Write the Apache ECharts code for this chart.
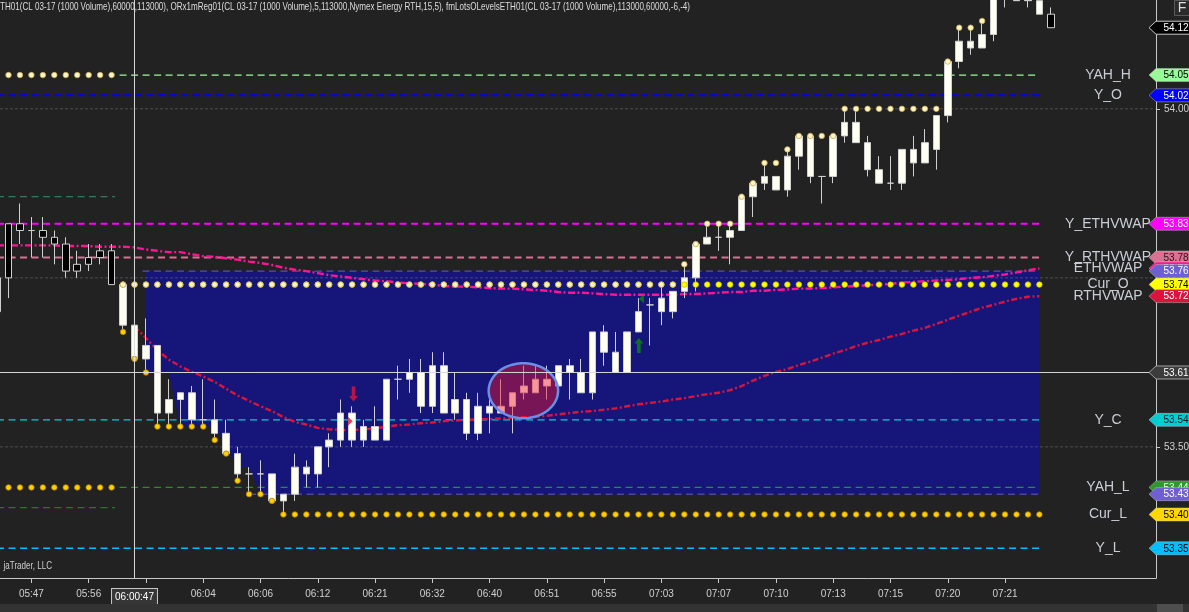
<!DOCTYPE html>
<html>
<head>
<meta charset="utf-8">
<script src="https://cdn.jsdelivr.net/npm/echarts@6.0.0/dist/echarts.min.js"></script>
<style>
html,body{margin:0;padding:0;background:#222222;overflow:hidden;}
#chart{width:1189px;height:612px;}
</style>
</head>
<body>
<div id="chart"></div>
<script>
// ================= DATA =================
// volume bars, index -1 .. 91
const firstBar = -1;
const opens = [
53.75,53.83,53.83,53.82,53.82,53.81,53.80,53.77,53.78,53.79,
53.79,53.68,53.63,53.63,53.55,53.55,53.57,53.54,53.54,53.52,
53.49,53.46,53.46,53.46,53.42,53.42,53.43,53.46,53.46,53.50,
53.51,53.51,53.51,53.51,53.51,53.60,53.60,53.56,53.56,53.55,
53.55,53.52,53.52,53.55,53.55,53.56,53.58,53.58,53.59,53.59,
53.61,53.58,53.58,53.64,53.61,53.61,53.67,53.71,53.70,53.70,
53.73,53.75,53.80,53.81,53.81,53.82,53.87,53.89,53.88,53.88,
53.93,53.90,53.90,53.90,53.96,53.95,53.91,53.89,53.89,53.89,
53.92,53.92,53.94,53.99,54.07,54.09,54.09,54.11,54.17,54.16,
54.16,54.14,54.14];
const closes = [
53.70,53.75,53.82,53.82,53.81,53.80,53.76,53.76,53.77,53.78,
53.74,53.74,53.68,53.65,53.65,53.57,53.58,53.58,53.54,53.54,
53.52,53.49,53.46,53.46,53.46,53.43,53.47,53.47,53.50,53.51,
53.55,53.55,53.53,53.53,53.60,53.60,53.61,53.61,53.62,53.62,
53.57,53.57,53.56,53.56,53.56,53.58,53.59,53.60,53.60,53.62,
53.62,53.61,53.67,53.67,53.64,53.67,53.70,53.71,53.72,53.73,
53.75,53.80,53.81,53.81,53.82,53.87,53.89,53.90,53.90,53.93,
53.96,53.96,53.90,53.96,53.98,53.98,53.95,53.91,53.89,53.94,
53.94,53.95,53.99,54.07,54.10,54.10,54.11,54.18,54.20,54.18,
54.17,54.16,54.12];
const lows = [
53.69,53.72,53.80,53.78,53.78,53.77,53.75,53.75,53.76,53.77,
53.74,53.67,53.63,53.61,53.53,53.53,53.53,53.53,53.53,53.51,
53.49,53.45,53.43,53.43,53.42,53.40,53.42,53.44,53.44,53.47,
53.50,53.50,53.50,53.51,53.51,53.57,53.58,53.55,53.55,53.55,
53.54,53.51,53.51,53.52,53.55,53.52,53.57,53.58,53.57,53.59,
53.57,53.58,53.57,53.62,53.61,53.61,53.67,53.65,53.68,53.69,
53.72,53.73,53.80,53.79,53.77,53.82,53.84,53.88,53.88,53.87,
53.91,53.89,53.86,53.89,53.95,53.95,53.90,53.89,53.88,53.88,
53.90,53.92,53.91,53.98,54.06,54.08,54.09,54.10,54.15,54.16,
54.15,54.14,54.12];
const highs = [
53.75,53.83,53.86,53.84,53.84,53.82,53.81,53.79,53.80,53.80,
53.80,53.74,53.71,53.69,53.65,53.60,53.58,53.59,53.60,53.57,
53.54,53.50,53.47,53.48,53.46,53.43,53.49,53.48,53.50,53.52,
53.57,53.56,53.54,53.56,53.60,53.62,53.63,53.63,53.64,53.64,
53.61,53.58,53.58,53.57,53.60,53.58,53.62,53.62,53.62,53.62,
53.63,53.63,53.67,53.68,53.67,53.67,53.72,53.72,53.74,53.73,
53.77,53.80,53.83,53.83,53.83,53.87,53.89,53.92,53.90,53.94,
53.96,53.96,53.90,53.96,54.00,54.00,53.96,53.93,53.93,53.94,
53.96,53.97,53.99,54.07,54.12,54.12,54.13,54.19,54.21,54.19,
54.18,54.16,54.15];

// ETH VWAP, bars -1 .. 90
const ethVwapStart = -1;
const ethVwap = [
53.798,53.798,53.798,53.798,53.798,53.798,53.797,53.797,53.797,53.796,
53.796,53.796,53.795,53.792,53.790,53.788,53.788,53.785,53.782,53.781,
53.779,53.777,53.774,53.772,53.769,53.765,53.762,53.760,53.757,53.754,
53.752,53.750,53.748,53.746,53.745,53.743,53.742,53.741,53.740,53.738,
53.737,53.737,53.736,53.735,53.734,53.734,53.733,53.732,53.731,53.729,
53.728,53.728,53.727,53.726,53.725,53.725,53.725,53.725,53.725,53.725,
53.726,53.726,53.727,53.728,53.729,53.729,53.731,53.731,53.732,53.733,
53.734,53.734,53.735,53.736,53.737,53.738,53.739,53.740,53.741,53.743,
53.744,53.745,53.746,53.747,53.748,53.750,53.751,53.753,53.755,53.758,
53.761,53.764];

// RTH VWAP, bars 11 .. 90
const rthVwapStart = 11;
const rthVwap = [
53.678,53.661,53.643,53.629,53.619,53.611,53.604,53.596,53.586,53.576,
53.568,53.560,53.553,53.544,53.537,53.533,53.528,53.526,53.525,53.525,
53.526,53.527,53.530,53.532,53.533,53.535,53.536,53.538,53.539,53.540,
53.541,53.541,53.542,53.543,53.544,53.544,53.546,53.548,53.550,53.552,
53.553,53.555,53.557,53.560,53.563,53.565,53.567,53.570,53.572,53.575,
53.578,53.580,53.584,53.590,53.598,53.605,53.611,53.615,53.621,53.626,
53.632,53.638,53.643,53.649,53.654,53.658,53.663,53.667,53.672,53.676,
53.682,53.688,53.694,53.700,53.706,53.710,53.715,53.719,53.722,53.723];

// current session (starts bar 10): open, running high / low per bar 10 .. 90
const sessionStart = 10;
const sessionEnd = 90;
const curOpen = 53.74;
const curHigh = [
53.74,53.74,53.74,53.74,53.74,53.74,53.74,53.74,53.74,53.74,
53.74,53.74,53.74,53.74,53.74,53.74,53.74,53.74,53.74,53.74,
53.74,53.74,53.74,53.74,53.74,53.74,53.74,53.74,53.74,53.74,
53.74,53.74,53.74,53.74,53.74,53.74,53.74,53.74,53.74,53.74,
53.74,53.74,53.74,53.74,53.74,53.74,53.74,53.74,53.74,
53.77,53.80,53.83,53.83,53.83,53.87,53.89,53.92,53.92,53.94,
53.96,53.96,53.96,53.96,
54.00,54.00,54.00,54.00,54.00,54.00,54.00,54.00,54.00,
54.07,54.12,54.12,54.13,54.19,54.21,54.21,54.21,54.21];
const curLow = [
53.67,53.63,53.61,53.53,53.53,53.53,53.53,53.53,53.51,53.49,
53.45,53.43,53.43,53.42,
53.40,53.40,53.40,53.40,53.40,53.40,53.40,53.40,53.40,53.40,
53.40,53.40,53.40,53.40,53.40,53.40,53.40,53.40,53.40,53.40,
53.40,53.40,53.40,53.40,53.40,53.40,53.40,53.40,53.40,53.40,
53.40,53.40,53.40,53.40,53.40,53.40,53.40,53.40,53.40,53.40,
53.40,53.40,53.40,53.40,53.40,53.40,53.40,53.40,53.40,53.40,
53.40,53.40,53.40,53.40,53.40,53.40,53.40,53.40,53.40,53.40,
53.40,53.40,53.40,53.40,53.40,53.40,53.40];

// previous session dots (bars 0..9)
const prevBars = [0,1,2,3,4,5,6,7,8,9];
const prevHigh = 54.05;
const prevLow = 53.44;

// opening range box
const orStart = 12;
const orTop = 53.76;
const orBottom = [53.61,53.61,53.61,53.53,53.53,53.53,53.53,53.50,53.47,53.47,53.43]; // bars 12..22
const orEnd = 90;

// horizontal levels
const levelNames = ['YAH_H','Y_O','Y_ETHVWAP','Y_RTHVWAP','OR_H','Y_C','YAH_L','OR_L','Y_L','P_H','P_L'];
const levelValues = [54.05, 54.02, 53.83, 53.78, 53.76, 53.54, 53.44, 53.43, 53.35, 53.87, 53.41];
const levelFrom = [9.7, -1, -1, -1, 11.7, -1, 9.7, 21, -1, -1, -1];
const levelTo = [90, 90, 90, 90, 90, 90, 90, 90, 90, 9.3, 9.3];

// axes
const gridPrices = [53.50, 53.75, 54.00];
const tickBars = [2,7,12,17,22,27,32,37,42,47,52,57,62,67,72,77,82,87];
const labelBars = [2,7,17,22,27,32,37,42,47,52,57,62,67,72,77,82,87];
const labelTexts = ['05:47','05:56','06:04','06:06','06:12','06:21','06:32','06:40','06:51','06:55','07:03','07:07','07:10','07:13','07:15','07:20','07:21'];

// crosshair
const crossBar = 11, crossTime = '06:00:47', crossPrice = 53.61;

// drawn ellipse
const circleBar = 44.95, circlePrice = 53.583, circleHalfBars = 3.03, circleHalfPrice = 0.0407;

// signal markers
const signalKinds = ['sellArrow','sellMark','buyArrow','buyMark'];
const signalBars = [30.12, 29.84, 55.03, 55.25];
const signalPrices = [53.578, 53.538, 53.650, 53.719];

// right side labels
const labelNames = ['YAH_H','Y_O','Y_ETHVWAP','Y_RTHVWAP','ETHVWAP','Cur_O','RTHVWAP','Y_C','YAH_L','Cur_L','Y_L'];

const TITLE = 'TH01(CL 03-17 (1000 Volume),60000,113000), ORx1mReg01(CL 03-17 (1000 Volume),5,113000,Nymex Energy RTH,15,5), fmLotsOLevelsETH01(CL 03-17 (1000 Volume),113000,60000,-6,-4)';
const FOOT = 'jaTrader, LLC';

// ================= STYLE =================
const X_MIN = -0.742, X_MAX = 100.18, Y_MIN = 53.306, Y_MAX = 54.161;
const FONT = '"Liberation Sans", Arial, sans-serif';
const LEVEL_STYLE = {
  YAH_H:{c:'#98fb98', w:1.3}, Y_O:{c:'#0000ff', w:2}, Y_ETHVWAP:{c:'#ff00ff', w:2.2},
  Y_RTHVWAP:{c:'#db7093', w:2}, OR_H:{c:'#6a5acd', w:1}, Y_C:{c:'#00ced1', w:1.3},
  YAH_L:{c:'#2e8b2e', w:1.2}, OR_L:{c:'#6a5acd', w:1}, Y_L:{c:'#00bfff', w:1.3},
  P_H:{c:'#3a8f70', w:1}, P_L:{c:'#2f8a2f', w:1}
};
const FLAG_STYLE = {
  last:{fill:'#000000', txt:'#ffffff', stroke:'#c8c8c8'},
  YAH_H:{fill:'#98fb98', txt:'#000000'}, Y_O:{fill:'#0000ff', txt:'#ffffff'},
  Y_ETHVWAP:{fill:'#ff00ff', txt:'#ffffff'}, Y_RTHVWAP:{fill:'#db7093', txt:'#301018'},
  ETHVWAP:{fill:'#ff1493', txt:'#ffffff'}, OR_H:{fill:'#6e5fd2', txt:'#ffffff'},
  Cur_O:{fill:'#ffff00', txt:'#000000'}, RTHVWAP:{fill:'#dc143c', txt:'#ffffff'},
  cross:{fill:'#3c3c3c', txt:'#ffffff', stroke:'#a0a0a0'}, Y_C:{fill:'#00ced1', txt:'#001a1a'},
  YAH_L:{fill:'#2e9a2e', txt:'#e8ffe8'}, OR_L:{fill:'#6e5fd2', txt:'#ffffff'},
  Cur_L:{fill:'#ffd700', txt:'#000000'}, Y_L:{fill:'#00bfff', txt:'#000000'}
};
const SIGNAL_STYLE = {
  sellArrow:{symbol:'path://M3,0L7,0L7,10L10,10L5,16L0,10L3,10Z', size:[9,15], color:'#e0143c'},
  sellMark:{symbol:'path://M0,0L6,5L0,10Z', size:[5,9], color:'#e0143c'},
  buyArrow:{symbol:'path://M5,0L10,6L7,6L7,16L3,16L3,6L0,6Z', size:[9,15], color:'#0a8a0a'},
  buyMark:{symbol:'path://M6,0L0,5L6,10Z', size:[5,9], color:'#0a8a0a'}
};

// ================= BUILD =================
const lv = n => levelValues[levelNames.indexOf(n)];
const bars = opens.map((_, i) => firstBar + i);
const candleData = bars.map((b, i) => [b, opens[i], closes[i], lows[i], highs[i]]);
const sessionBars = curHigh.map((_, i) => sessionStart + i);

const flagList = [
  {k:'last', v: closes[closes.length-1]},
  {k:'YAH_H', v: lv('YAH_H')}, {k:'Y_O', v: lv('Y_O')},
  {k:'Y_ETHVWAP', v: lv('Y_ETHVWAP')}, {k:'Y_RTHVWAP', v: lv('Y_RTHVWAP')},
  {k:'ETHVWAP', v: ethVwap[ethVwap.length-1]}, {k:'OR_H', v: orTop},
  {k:'Cur_O', v: curOpen}, {k:'RTHVWAP', v: rthVwap[rthVwap.length-1]},
  {k:'cross', v: crossPrice}, {k:'Y_C', v: lv('Y_C')},
  {k:'YAH_L', v: lv('YAH_L')}, {k:'OR_L', v: orBottom[orBottom.length-1]},
  {k:'Cur_L', v: curLow[curLow.length-1]}, {k:'Y_L', v: lv('Y_L')}
];
const labelValueMap = {
  YAH_H: lv('YAH_H'), Y_O: lv('Y_O'), Y_ETHVWAP: lv('Y_ETHVWAP'), Y_RTHVWAP: lv('Y_RTHVWAP'),
  ETHVWAP: ethVwap[ethVwap.length-1], Cur_O: curOpen, RTHVWAP: rthVwap[rthVwap.length-1],
  Y_C: lv('Y_C'), YAH_L: lv('YAH_L'), Cur_L: curLow[curLow.length-1], Y_L: lv('Y_L')
};

const series = [];

// opening range box
series.push({
  type:'custom', name:'ORbox', z:1, silent:true, clip:true,
  data:[[orStart, orTop]],
  renderItem(params, api){
    const pts = [];
    pts.push(api.coord([orStart, orTop]));
    pts.push(api.coord([orEnd, orTop]));
    pts.push(api.coord([orEnd, orBottom[orBottom.length-1]]));
    for (let k = orBottom.length-1; k >= 0; k--) pts.push(api.coord([orStart+k, orBottom[k]]));
    return {type:'polygon', shape:{points:pts}, style:{fill:'#16167a'}};
  }
});

// grid lines
gridPrices.forEach(p => series.push({
  type:'line', z:2, silent:true, symbol:'none', animation:false,
  data:[[X_MIN, p],[X_MAX, p]],
  lineStyle:{color:'rgba(140,140,140,0.42)', width:1, type:[3,2]}
}));

// level lines
levelNames.forEach((n, i) => {
  const st = LEVEL_STYLE[n];
  series.push({
    type:'line', name:n, z:3, silent:true, symbol:'none',
    data:[[levelFrom[i], levelValues[i]],[levelTo[i], levelValues[i]]],
    lineStyle:{color:st.c, width:st.w, type:[7,4.5]}
  });
});

// VWAPs
series.push({
  type:'line', name:'ETHVWAP', z:4, silent:true, symbol:'none',
  data: ethVwap.map((v, i) => [ethVwapStart + i, v]),
  lineStyle:{color:'#ff1493', width:2.4, type:[7,2.5,2,2.5]}
});
series.push({
  type:'line', name:'RTHVWAP', z:4, silent:true, symbol:'none',
  data: rthVwap.map((v, i) => [rthVwapStart + i, v]),
  lineStyle:{color:'#dc143c', width:2.4, type:[6,2.5,2,2.5]}
});

// candles
series.push({
  type:'candlestick', name:'CL 03-17', z:5, barWidth:7,
  data: candleData, encode:{x:0, y:[1,2,3,4]},
  itemStyle:{color:'#fffff2', color0:'#000000', borderColor:'#cfcfcf', borderColor0:'#cfcfcf', borderColorDoji:'#cfcfcf', borderWidth:1}
});

// ellipse drawing
series.push({
  type:'custom', name:'circle', z:6, silent:true,
  data:[[circleBar, circlePrice]],
  renderItem(params, api){
    const c = api.coord([circleBar, circlePrice]);
    const s = api.size([circleHalfBars, circleHalfPrice]);
    const pts = [];
    for (let k = 0; k < 96; k++) {
      const a = k / 96 * Math.PI * 2;
      pts.push([c[0] + s[0]*Math.cos(a), c[1] + s[1]*Math.sin(a)]);
    }
    return {type:'polygon', shape:{points:pts}, style:{fill:'rgba(240,20,45,0.45)', stroke:'#6a8fe8', lineWidth:2.5}};
  }
});

// dots
function dots(name, data, fill, border, z){
  return {type:'scatter', name, z, silent:true, clip:true, symbol:'circle', symbolSize:5.5,
    data, itemStyle:{color:fill, borderColor:border, borderWidth:0.8, opacity:1}};
}
series.push(dots('prevHigh', prevBars.map(b => [b, prevHigh]), '#fff6c8', '#c8a850', 7));
series.push(dots('prevLow', prevBars.map(b => [b, prevLow]), '#ffd000', '#b08000', 7));
series.push(dots('Cur_O', sessionBars.map(b => [b, curOpen]), '#ffff00', '#c8c000', 7));
series.push(dots('Cur_H', curHigh.map((v, i) => [sessionStart + i, v]), '#fff6c8', '#c8a850', 7.1));
series.push(dots('Cur_L', curLow.map((v, i) => [sessionStart + i, v]), '#ffd000', '#b08000', 7.1));

// signals
series.push({
  type:'scatter', name:'signals', z:8, silent:true,
  data: signalKinds.map((k, i) => ({
    value:[signalBars[i], signalPrices[i]],
    symbol: SIGNAL_STYLE[k].symbol, symbolSize: SIGNAL_STYLE[k].size,
    itemStyle:{color: SIGNAL_STYLE[k].color}
  }))
});

// crosshair
series.push({type:'line', z:9, silent:true, symbol:'none', data:[[crossBar, Y_MIN],[crossBar, Y_MAX]], lineStyle:{color:'#d8d8d8', width:1}});
series.push({type:'line', z:9, silent:true, symbol:'none', data:[[X_MIN, crossPrice],[X_MAX, crossPrice]], lineStyle:{color:'#d8d8d8', width:1}});

// right labels
series.push({
  type:'custom', name:'labels', z:10, silent:true, clip:false,
  data: labelNames.map((n, i) => [i, labelValueMap[n]]),
  renderItem(params, api){
    const n = labelNames[params.dataIndex];
    const cs = params.coordSys;
    const right = cs.x + cs.width;
    const y = api.coord([X_MIN, labelValueMap[n]])[1];
    return {type:'text', x: right - 48, y: y,
      style:{text:n, fill:'#c9cdd6', font:'14px ' + FONT, align:'center', verticalAlign:'middle', textAlign:'center', textVerticalAlign:'middle'}};
  }
});

// price flags
series.push({
  type:'custom', name:'flags', z:11, silent:true, clip:false,
  data: flagList.map((f, i) => [i, f.v]),
  renderItem(params, api){
    const f = flagList[params.dataIndex];
    const st = FLAG_STYLE[f.k];
    const cs = params.coordSys;
    const right = cs.x + cs.width;
    const y = api.coord([X_MIN, f.v])[1];
    const h = 6.5;
    return {type:'group', children:[
      {type:'polygon', shape:{points:[[right-7, y],[right, y-h],[right+40, y-h],[right+40, y+h],[right, y+h]]},
        style:{fill:st.fill, stroke:st.stroke || 'rgba(200,200,200,0.45)', lineWidth:1}},
      {type:'text', x: right + 20, y: y + 0.5,
        style:{text:f.v.toFixed(2), fill:st.txt, font:'10px ' + FONT, align:'center', verticalAlign:'middle', textAlign:'center', textVerticalAlign:'middle'}}
    ]};
  }
});

// text width for condensed header
const mctx = document.createElement('canvas').getContext('2d');
mctx.font = '11px ' + FONT;
const titleScale = 690 / mctx.measureText(TITLE).width;
const footW = mctx.measureText(FOOT).width * titleScale;

const chart = echarts.init(document.getElementById('chart'), null, {renderer:'canvas'});
chart.setOption({
  backgroundColor:'#222222',
  animation:false,
  grid:{left:0, right:33, top:0, bottom:34, containLabel:false, outerBoundsMode:'none'},
  xAxis:{
    type:'value', min:X_MIN, max:X_MAX,
    axisLine:{show:true, onZero:false, lineStyle:{color:'#c8c8c8', width:1}},
    axisTick:{show:true, customValues:tickBars, length:5, lineStyle:{color:'#c8c8c8'}},
    axisLabel:{
      customValues: labelBars.concat([crossBar]).sort((a,b)=>a-b),
      formatter: v => v === crossBar ? '{box|' + crossTime + '}' : labelTexts[labelBars.indexOf(v)],
      color:'#d0d0d0', fontSize:10, fontFamily:FONT, margin:11,
      rich:{box:{color:'#ffffff', fontSize:10, fontFamily:FONT, backgroundColor:'#363636', borderColor:'#c8c8c8', borderWidth:1, padding:[3,3,3,3]}}
    },
    splitLine:{show:false}
  },
  yAxis:{
    type:'value', position:'right', min:Y_MIN, max:Y_MAX, scale:true,
    axisLine:{show:true, onZero:false, lineStyle:{color:'#c8c8c8', width:1}},
    axisTick:{show:true, customValues:gridPrices, length:4, lineStyle:{color:'#c8c8c8'}},
    axisLabel:{customValues:gridPrices, formatter: v => v.toFixed(2), color:'#d0d0d0', fontSize:10, fontFamily:FONT, margin:8},
    splitLine:{show:false}
  },
  graphic:[
    {type:'text', x:0, y:1, scaleX:titleScale, z:100, silent:true,
      style:{text:TITLE, fill:'#dcdcdc', font:'11px ' + FONT}},
    {type:'text', x:52 - footW, y:560, scaleX:titleScale, z:100, silent:true,
      style:{text:FOOT, fill:'#cfcfcf', font:'11px ' + FONT}},
    {type:'rect', shape:{x:0, y:604, width:1189, height:8}, style:{fill:'#333333'}, z:100, silent:true},
    {type:'rect', shape:{x:1157, y:604, width:26, height:8}, style:{fill:'#4e4e4e'}, z:101, silent:true},
    {type:'rect', shape:{x:1174.5, y:0.5, width:15, height:15}, style:{fill:'#2b2b2b', stroke:'#5a5a5a', lineWidth:1}, z:100, silent:true},
    {type:'text', x:1182, y:8.5, z:101, silent:true,
      style:{text:'F', fill:'#dddddd', font:'14px ' + FONT, align:'center', verticalAlign:'middle', textAlign:'center', textVerticalAlign:'middle'}}
  ],
  series
});
</script>
</body>
</html>
